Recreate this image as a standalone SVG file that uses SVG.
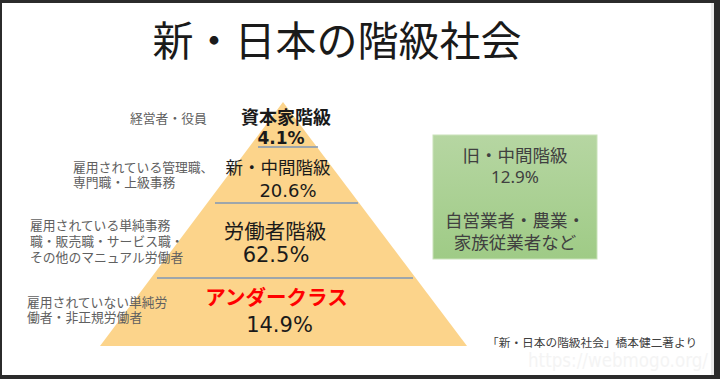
<svg xmlns="http://www.w3.org/2000/svg" width="720" height="379" viewBox="0 0 720 379">
<defs>
<linearGradient id="gg" x1="0" y1="0" x2="0" y2="1">
<stop offset="0" stop-color="#b6d6a2"/>
<stop offset="1" stop-color="#9fcb86"/>
</linearGradient>
<style>
.jp{font-family:"Noto Sans CJK JP","Noto Sans CJK SC",sans-serif;}
.num{font-family:"DejaVu Sans","Noto Sans CJK JP",sans-serif;}
.lab{font-family:"Noto Sans CJK JP",sans-serif;font-size:12.8px;fill:#606060;}
.mid{text-anchor:middle;}
.dk{fill:#1a1a1a;}
.gt{fill:#404040;font-size:17.5px;}
.div{stroke:#7f97b6;stroke-width:1.6;}
</style>
</defs>
<rect x="0" y="0" width="720" height="379" fill="#ffffff"/>
<text x="528" y="367" font-family="DejaVu Sans,sans-serif" font-size="20" fill="#f4f4f4" textLength="180" lengthAdjust="spacingAndGlyphs">https://webmogo.org/</text>
<g id="frame" fill="#2b2b2b">
<rect x="0" y="0" width="720" height="3"/>
<rect x="0" y="0" width="2" height="379"/>
<rect x="714" y="0" width="6" height="379"/>
<rect x="0" y="375" width="720" height="4"/>
<rect x="711" y="3" width="3" height="372" fill="#ececec"/>
</g>
<g id="title">
<text class="jp mid dk" x="337" y="56" font-size="41">新・日本の階級社会</text>
</g>
<g id="pyramid">
<polygon points="283,102 467,346 100,346" fill="#fcd48b"/>
</g>
<g id="connectors">
<line class="div" x1="258" y1="147" x2="318" y2="147"/>
<line class="div" x1="215" y1="203" x2="358" y2="203"/>
<line class="div" x1="157" y1="278" x2="413" y2="278"/>
</g>
<g id="capitalist">
<text class="jp mid dk" x="286" y="124" font-size="18" font-weight="bold">資本家階級</text>
<text class="num mid dk" x="281" y="144" font-size="17" font-weight="bold">4.1%</text>
<text class="lab" x="130" y="123">経営者・役員</text>
</g>
<g id="new-middle">
<text class="jp mid dk" x="278" y="174" font-size="17.5">新・中間階級</text>
<text class="num mid dk" x="288" y="197" font-size="18">20.6%</text>
<text class="lab" x="73" y="172">雇用されている管理職、<tspan x="73" dy="15">専門職・上級事務</tspan></text>
</g>
<g id="working">
<text class="jp mid dk" x="275" y="239" font-size="20.5">労働者階級</text>
<text class="num mid dk" x="276" y="262" font-size="21">62.5%</text>
<text class="lab" x="30" y="230" font-size="13.3">雇用されている単純事務<tspan x="30" dy="16">職・販売職・サービス職・</tspan><tspan x="30" dy="16">その他のマニュアル労働者</tspan></text>
</g>
<g id="underclass">
<text class="jp mid" x="276.5" y="305" font-size="20.5" font-weight="bold" fill="#ff0000">アンダークラス</text>
<text class="num mid dk" x="279.5" y="332" font-size="21">14.9%</text>
<text class="lab" x="27" y="307" font-size="13.3">雇用されていない単純労<tspan x="27" dy="15">働者・非正規労働者</tspan></text>
</g>
<g id="old-middle">
<rect x="433" y="135" width="164" height="124" fill="url(#gg)" stroke="#c9e2b9" stroke-width="1"/>
<text class="jp mid gt" x="515" y="162">旧・中間階級</text>
<text class="mid" x="515" y="183" font-family="Noto Sans,sans-serif" font-size="17" fill="#404040">12.9%</text>
<text class="jp mid gt" x="515" y="227">自営業者・農業・</text>
<text class="jp mid gt" x="515" y="249">家族従業者など</text>
</g>
<g id="caption">
<text class="jp" x="487" y="346.5" font-size="11.7" fill="#404040">「新・日本の階級社会」橋本健二著より</text>
</g>
</svg>
